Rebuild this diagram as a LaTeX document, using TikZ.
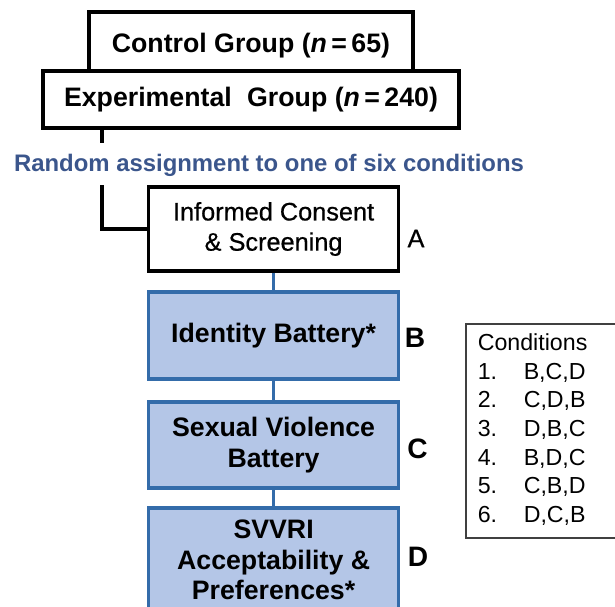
\documentclass[tikz,border=0pt]{standalone}
\usepackage{fontspec}
\setmainfont{Liberation Sans}
\newfontfamily\mediumfont[FakeBold=0.6]{Liberation Sans}
\usepackage{xcolor}
\usetikzlibrary{positioning}
\definecolor{taskfill}{RGB}{180,198,231}
\definecolor{taskline}{RGB}{52,108,170}
\definecolor{randblue}{RGB}{59,86,140}

\begin{document}
\begin{tikzpicture}[
    grpbox/.style={draw, line width=2.8pt, fill=white, inner sep=0pt,
        font=\bfseries\fontsize{19}{22}\selectfont},
    consentbox/.style={draw, line width=2.4pt, fill=white, align=center,
        minimum width=6.25cm, minimum height=2.1cm,
        font=\mediumfont\fontsize{18}{21.5}\selectfont},
    taskbox/.style={draw=taskline, line width=2.2pt, fill=taskfill, align=center,
        minimum width=6.25cm, font=\bfseries\fontsize{19}{21.5}\selectfont},
    letter/.style={inner sep=0pt, font=\bfseries\fontsize{20}{24}\selectfont},
    link/.style={line width=2.6pt},
    flow/.style={draw=taskline, line width=2.4pt},
    randtext/.style={text=randblue, font=\bfseries\fontsize{17}{20}\selectfont},
    condbox/.style={draw=black!75, line width=1.1pt, anchor=north west,
        text width=4cm, inner xsep=0.3cm, minimum height=5.35cm,
        font=\fontsize{16.5}{20.4}\selectfont}
]
    \clip (0,0) rectangle (15.375,-15.175);

    %Groups
    \node[grpbox, minimum width=8.1cm, minimum height=1.7cm] (control) at (6.275,-1.15)
        {Control Group (\textit{n}\,=\,65)};
    \node[grpbox, minimum width=10.4cm, minimum height=1.425cm] (exp) at (6.275,-2.4875)
        {Experimental\hspace{0.3em} Group (\textit{n}\,=\,240)};

    %Random assignment
    \node[randtext] (random) at (6.725,-4.125) {Random assignment to one of six conditions};
    \coordinate (split) at (2.55,-3.575);
    \coordinate (join) at (2.55,-4.625);

    %Steps
    \node[consentbox] (consent) at (6.84,-5.725) {Informed Consent\\\& Screening};
    \node[taskbox, minimum height=2.175cm] (ident) at (6.84,-8.3875) {Identity Battery*};
    \node[taskbox, minimum height=2.15cm] (sexvio) at (6.84,-11.125) {Sexual Violence\\Battery};
    \node[taskbox, minimum height=2.6cm] (svvri) at (6.84,-14.0)
        {SVVRI\\Acceptability \&\\Preferences*};

    %Letters
    \node[letter, font=\mediumfont\fontsize{18}{22}\selectfont] (labA) at (10.4,-5.9625) {A};
    \node[letter] (labB) at (10.375,-8.45) {B};
    \node[letter] (labC) at (10.4375,-11.2125) {C};
    \node[letter] (labD) at (10.45,-13.925) {D};

    %Connectors
    \draw[link] (exp.south -| split) -- (split);
    \draw[link] (join) |- (consent.west);
    \draw[flow] (consent) -- (ident);
    \draw[flow] (ident) -- (sexvio);
    \draw[flow] (sexvio) -- (svvri);

    %Conditions
    \node[condbox] (cond) at (11.625,-8.075) {%
        \begin{tabular}{@{}p{1.15cm}@{}l@{}}
            \multicolumn{2}{@{}l@{}}{Conditions}\\
            1. & B,C,D\\
            2. & C,D,B\\
            3. & D,B,C\\
            4. & B,D,C\\
            5. & C,B,D\\
            6. & D,C,B
        \end{tabular}};
\end{tikzpicture}
\end{document}
